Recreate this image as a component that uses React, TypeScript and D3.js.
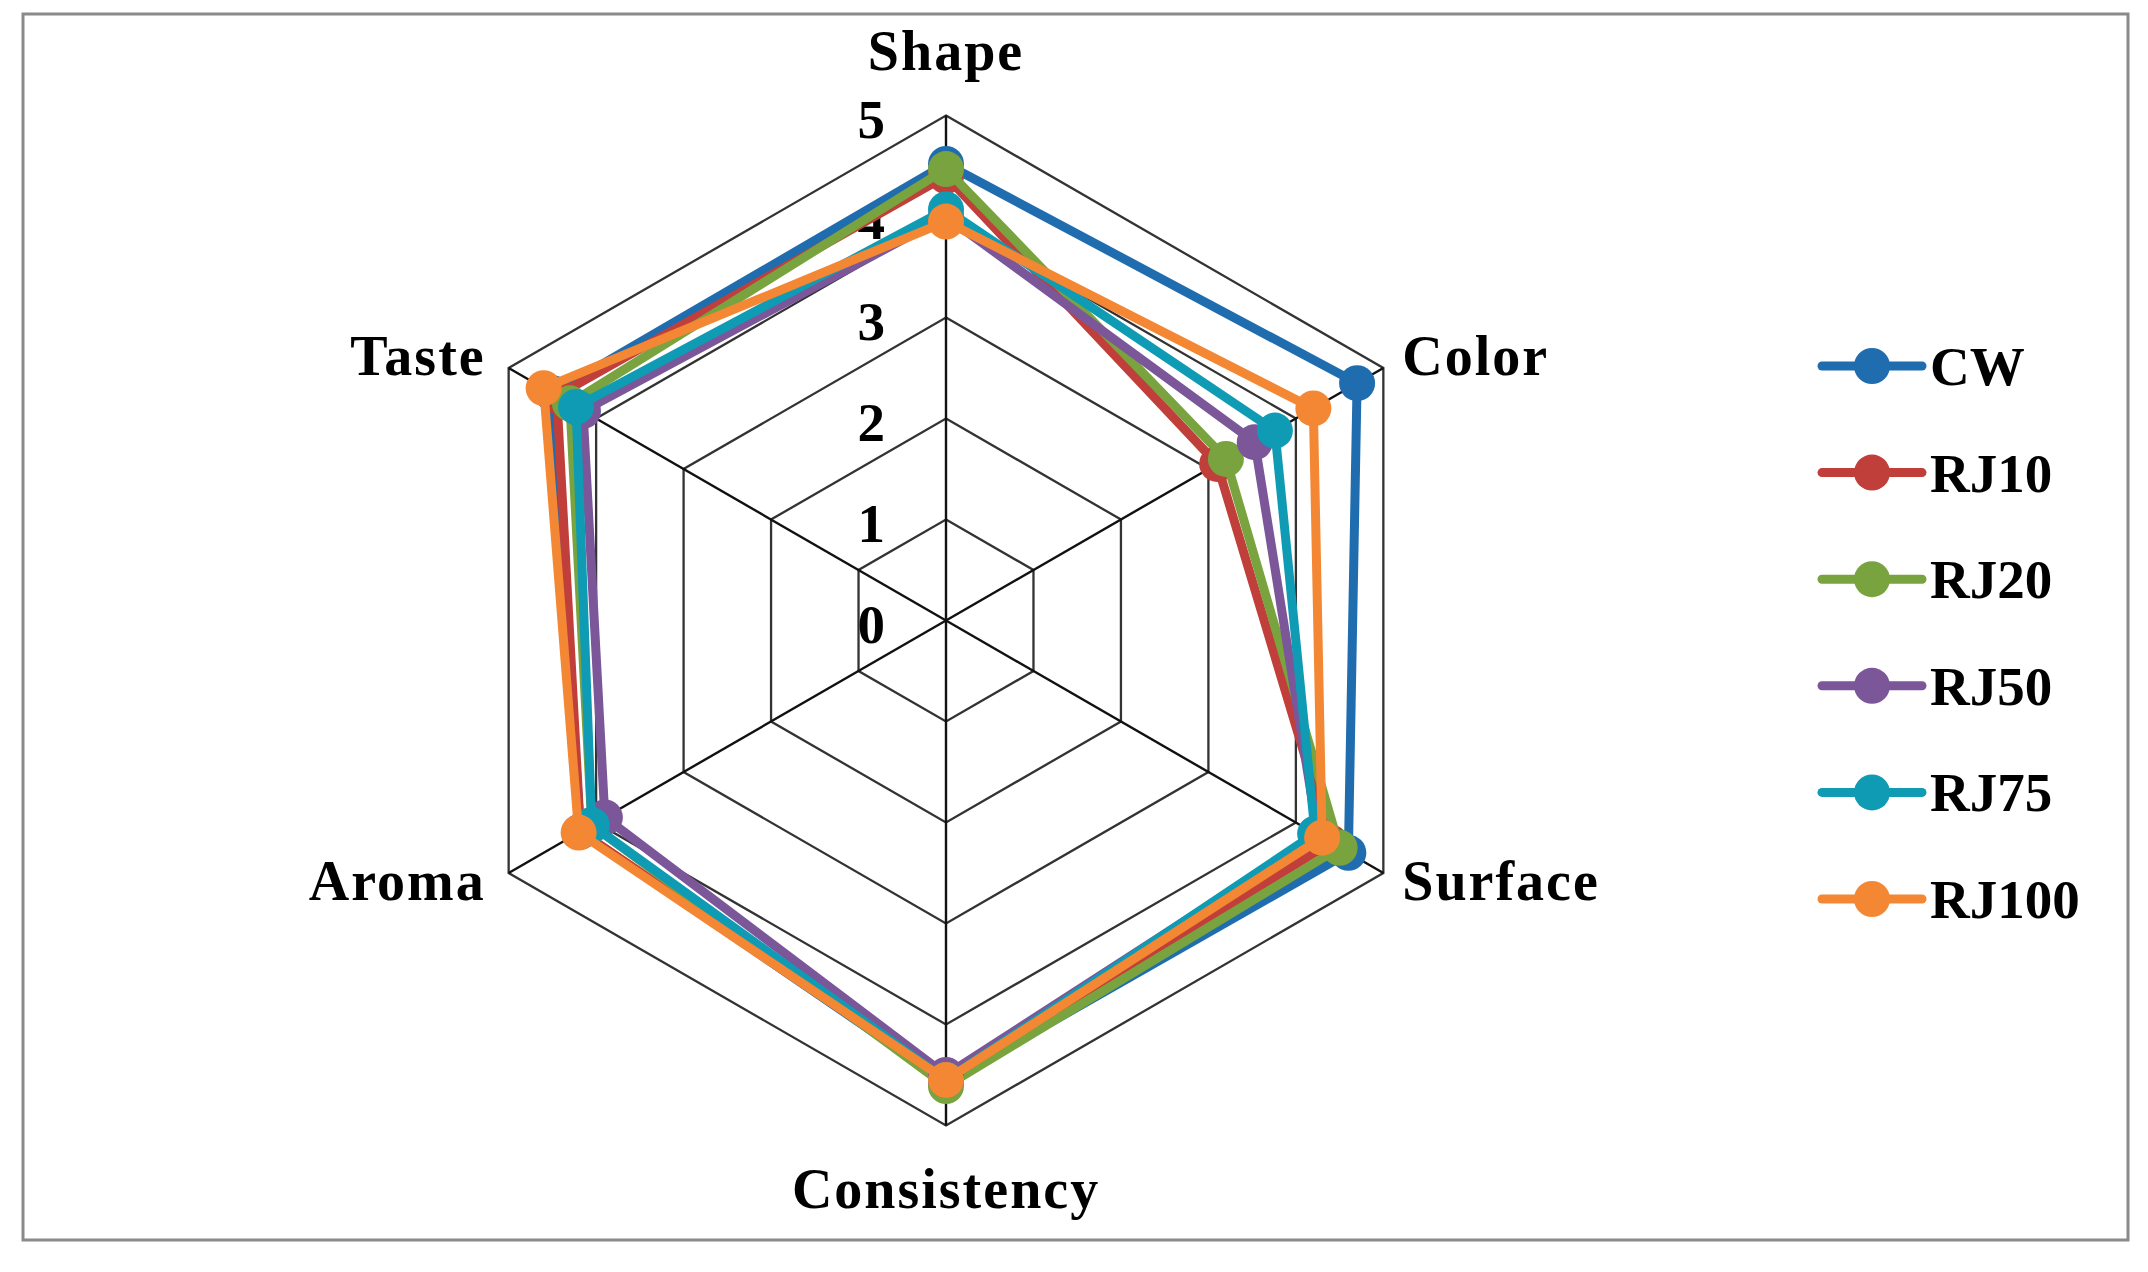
import React from 'react';
import * as d3 from 'd3';

// categories clockwise from the top
const categories = ['Shape', 'Color', 'Surface', 'Consistency', 'Aroma', 'Taste'];
const tickValues = [0, 1, 2, 3, 4, 5];
const seriesNames = ['CW', 'RJ10', 'RJ20', 'RJ50', 'RJ75', 'RJ100'];

const cwValues = [4.52, 4.7, 4.6, 4.57, 4.18, 4.5];
const rj10Values = [4.4, 3.1, 4.4, 4.55, 4.18, 4.45];
const rj20Values = [4.47, 3.2, 4.5, 4.61, 4.05, 4.3];
const rj50Values = [4.0, 3.53, 4.25, 4.5, 3.9, 4.15];
const rj75Values = [4.07, 3.76, 4.22, 4.55, 4.05, 4.23];
const rj100Values = [3.95, 4.2, 4.3, 4.55, 4.2, 4.6];

const seriesValues = [cwValues, rj10Values, rj20Values, rj50Values, rj75Values, rj100Values];
const seriesColors = ['#1f6dae', '#c13f3a', '#79a33e', '#7b5699', '#0f9bb3', '#f38733'];

const W = 2148;
const H = 1272;
const cx = 946;
const cy = 620.5;
const R = 505;
const font = "'Liberation Serif', 'Times New Roman', serif";

export default function App() {
  const r = d3.scaleLinear().domain([0, 5]).range([0, R]);
  const n = categories.length;
  const angle = (i: number) => (i * 2 * Math.PI) / n;
  const px = (i: number, v: number) => r(v) * Math.sin(angle(i));
  const py = (i: number, v: number) => -r(v) * Math.cos(angle(i));

  const radial = d3
    .lineRadial<number>()
    .angle((_, i) => angle(i))
    .radius((d) => r(d))
    .curve(d3.curveLinearClosed);

  const legendY = d3.scalePoint<string>().domain(seriesNames).range([366, 899]);

  // label placement around the outer ring
  const labelProps = (i: number) => {
    const x = px(i, 5);
    const y = py(i, 5);
    const s = Math.sin(angle(i));
    const c = Math.cos(angle(i));
    if (Math.abs(s) < 0.01) {
      return c > 0
        ? { x, y: y - 46, anchor: 'middle' }
        : { x, y: y + 82, anchor: 'middle' };
    }
    return {
      x: x + (s > 0 ? 19 : -23),
      y: y + (c > 0 ? 7 : 27),
      anchor: s > 0 ? 'start' : 'end',
    };
  };

  return (
    <svg
      width={W}
      height={H}
      style={{ position: 'absolute', left: 0, top: 0, background: '#fff' }}
    >
      <rect x={0} y={0} width={W} height={H} fill="#fff" />
      <rect x={23} y={14} width={2105} height={1226} fill="none" stroke="#8a8a8a" strokeWidth={3} />

      <g transform={`translate(${cx},${cy})`}>
        {tickValues.slice(1).map((t) => (
          <path
            key={t}
            d={radial(categories.map(() => t)) || ''}
            fill="none"
            stroke="#333"
            strokeWidth={2.3}
          />
        ))}
        {categories.map((c, i) => (
          <line key={c} x1={0} y1={0} x2={px(i, 5)} y2={py(i, 5)} stroke="#111" strokeWidth={2.4} />
        ))}

        {tickValues.map((t) => (
          <text
            key={t}
            x={-61}
            y={-r(t) + 22}
            textAnchor="end"
            fontFamily={font}
            fontWeight="bold"
            fontSize={55}
            fill="#000"
          >
            {t}
          </text>
        ))}

        {seriesValues.map((vals, s) => (
          <g key={seriesNames[s]}>
            <path
              d={radial(vals) || ''}
              fill="none"
              stroke={seriesColors[s]}
              strokeWidth={9}
              strokeLinejoin="round"
            />
            {vals.map((v, i) => (
              <circle key={i} cx={px(i, v)} cy={py(i, v)} r={18} fill={seriesColors[s]} />
            ))}
          </g>
        ))}

        {categories.map((c, i) => {
          const p = labelProps(i);
          return (
            <text
              key={c}
              x={p.x}
              y={p.y}
              textAnchor={p.anchor as any}
              fontFamily={font}
              fontWeight="bold"
              fontSize={56}
              letterSpacing={2}
              fill="#000"
            >
              {c}
            </text>
          );
        })}
      </g>

      <g>
        {seriesNames.map((name, s) => {
          const y = legendY(name) as number;
          return (
            <g key={name}>
              <line x1={1822} x2={1922} y1={y} y2={y} stroke={seriesColors[s]} strokeWidth={9} strokeLinecap="round" />
              <circle cx={1872} cy={y} r={18} fill={seriesColors[s]} />
              <text x={1930} y={y + 19} fontFamily={font} fontWeight="bold" fontSize={55} fill="#000">
                {name}
              </text>
            </g>
          );
        })}
      </g>
    </svg>
  );
}
